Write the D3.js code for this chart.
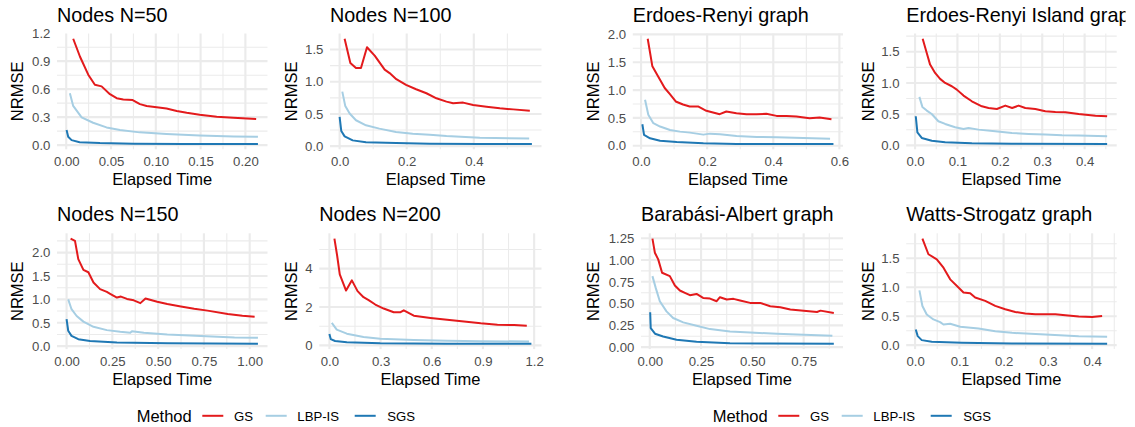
<!DOCTYPE html>
<html><head><meta charset="utf-8">
<script src="https://cdn.jsdelivr.net/npm/d3@7"></script>
<style>
body{margin:0;background:#fff}
svg{display:block}
text{font-family:"Liberation Sans",Arial,Helvetica,sans-serif}
</style>
</head><body>
<svg id="c" width="1135" height="427"></svg>
<script>
// ---------- data (elapsed time, NRMSE) ----------
const methods = ["GS", "LBP-IS", "SGS"];
const methodColors = ["#E31A1C", "#A6CEE3", "#1F78B4"];

const n50_GS = [[0.0078,1.14],[0.0153,0.95],[0.0246,0.755],[0.032,0.647],[0.0395,0.63],[0.0488,0.546],[0.0563,0.503],[0.0637,0.49],[0.0742,0.483],[0.0823,0.44],[0.0898,0.42],[0.101,0.405],[0.112,0.392],[0.1234,0.367],[0.1345,0.348],[0.149,0.327],[0.168,0.305],[0.1866,0.293],[0.212,0.28]];
const n50_LBP = [[0.0041,0.557],[0.0078,0.42],[0.0172,0.298],[0.030,0.24],[0.045,0.19],[0.06,0.162],[0.082,0.137],[0.112,0.119],[0.149,0.104],[0.187,0.093],[0.214,0.09]];
const n50_SGS = [[0.0004,0.162],[0.0022,0.09],[0.006,0.054],[0.015,0.032],[0.0376,0.022],[0.075,0.016],[0.131,0.013],[0.214,0.012]];

const n100_GS = [[0.0149,1.667],[0.032,1.29],[0.0488,1.213],[0.0637,1.213],[0.0816,1.536],[0.1045,1.406],[0.1343,1.187],[0.149,1.134],[0.169,1.04],[0.198,0.951],[0.228,0.883],[0.2587,0.821],[0.2886,0.743],[0.3184,0.691],[0.3383,0.665],[0.3682,0.676],[0.398,0.639],[0.4378,0.613],[0.4776,0.587],[0.5174,0.571],[0.567,0.55]];
const n100_LBP = [[0.008,0.846],[0.0169,0.622],[0.0299,0.507],[0.0488,0.402],[0.0786,0.324],[0.1184,0.272],[0.168,0.22],[0.2179,0.194],[0.2687,0.178],[0.3184,0.157],[0.418,0.131],[0.565,0.12]];
const n100_SGS = [[0.0,0.455],[0.005,0.235],[0.015,0.152],[0.039,0.09],[0.0786,0.059],[0.168,0.048],[0.2687,0.038],[0.418,0.033],[0.5731,0.033]];

const n150_GS = [[0.022,2.30],[0.046,2.25],[0.064,1.86],[0.092,1.63],[0.119,1.58],[0.147,1.36],[0.183,1.22],[0.22,1.16],[0.238,1.12],[0.275,1.04],[0.297,1.06],[0.33,1.01],[0.367,0.98],[0.403,0.92],[0.431,1.02],[0.495,0.95],[0.55,0.90],[0.624,0.85],[0.697,0.80],[0.77,0.76],[0.88,0.69],[0.96,0.65],[1.027,0.63]];
const n150_LBP = [[0.009,1.0],[0.027,0.79],[0.055,0.645],[0.092,0.525],[0.147,0.414],[0.22,0.343],[0.293,0.308],[0.348,0.287],[0.357,0.32],[0.422,0.287],[0.55,0.25],[0.733,0.216],[0.917,0.187],[1.045,0.18]];
const n150_SGS = [[0.0,0.58],[0.009,0.33],[0.027,0.22],[0.064,0.15],[0.128,0.11],[0.275,0.08],[0.55,0.06],[1.045,0.05]];

const n200_GS = [[0.0294,5.57],[0.0457,4.66],[0.0608,3.70],[0.0977,2.86],[0.1318,3.39],[0.165,2.83],[0.2,2.51],[0.23,2.36],[0.269,2.13],[0.318,1.92],[0.377,1.73],[0.417,1.73],[0.436,1.83],[0.4946,1.55],[0.5926,1.43],[0.69,1.33],[0.789,1.24],[0.887,1.15],[0.985,1.08],[1.083,1.06],[1.157,1.02]];
const n200_LBP = [[0.014,1.17],[0.043,0.82],[0.102,0.61],[0.2,0.44],[0.298,0.35],[0.494,0.28],[0.69,0.24],[0.887,0.22],[1.17,0.2]];
const n200_SGS = [[0.0,0.59],[0.0078,0.33],[0.0333,0.23],[0.102,0.16],[0.298,0.11],[0.69,0.09],[1.184,0.08]];

const er_GS = [[0.0202,1.922],[0.0343,1.427],[0.0514,1.247],[0.0716,1.037],[0.0867,0.93],[0.1049,0.795],[0.127,0.741],[0.1472,0.705],[0.1724,0.705],[0.1976,0.627],[0.238,0.567],[0.258,0.615],[0.2885,0.585],[0.319,0.567],[0.349,0.567],[0.379,0.573],[0.41,0.536],[0.44,0.536],[0.47,0.524],[0.51,0.494],[0.54,0.506],[0.576,0.476]];
const er_LBP = [[0.0121,0.826],[0.022,0.555],[0.0373,0.404],[0.0575,0.344],[0.0877,0.283],[0.118,0.253],[0.148,0.235],[0.1886,0.199],[0.2088,0.217],[0.239,0.205],[0.289,0.175],[0.35,0.157],[0.41,0.151],[0.491,0.139],[0.5718,0.127]];
const er_SGS = [[0.004,0.386],[0.0091,0.193],[0.0272,0.133],[0.0575,0.09],[0.108,0.066],[0.1886,0.042],[0.289,0.03],[0.44,0.03],[0.582,0.03]];

const eri_GS = [[0.018,1.708],[0.0276,1.48],[0.0355,1.294],[0.0473,1.16],[0.0591,1.065],[0.071,1.0],[0.0867,0.947],[0.0985,0.893],[0.1143,0.797],[0.134,0.706],[0.1576,0.626],[0.1734,0.599],[0.193,0.583],[0.213,0.637],[0.229,0.599],[0.2443,0.637],[0.26,0.599],[0.2837,0.583],[0.3073,0.546],[0.331,0.535],[0.3546,0.53],[0.386,0.503],[0.4255,0.476],[0.4531,0.466]];
const eri_LBP = [[0.0102,0.777],[0.0173,0.616],[0.0276,0.557],[0.0394,0.503],[0.055,0.386],[0.071,0.343],[0.0946,0.29],[0.1143,0.263],[0.1261,0.279],[0.1497,0.252],[0.1891,0.225],[0.2285,0.199],[0.2679,0.183],[0.3073,0.172],[0.3467,0.161],[0.386,0.156],[0.4531,0.145]];
const eri_SGS = [[0.0017,0.466],[0.0055,0.209],[0.0158,0.118],[0.0394,0.075],[0.071,0.048],[0.134,0.032],[0.2285,0.027],[0.4531,0.021]];

const ba_GS = [[0.013,1.246],[0.0248,1.084],[0.0411,1.007],[0.06,0.854],[0.0978,0.815],[0.1223,0.708],[0.1467,0.65],[0.1712,0.623],[0.1957,0.596],[0.228,0.611],[0.26,0.565],[0.2935,0.557],[0.326,0.527],[0.342,0.573],[0.375,0.546],[0.408,0.554],[0.44,0.535],[0.489,0.508],[0.538,0.508],[0.587,0.469],[0.636,0.458],[0.685,0.431],[0.75,0.419],[0.815,0.404],[0.832,0.419],[0.897,0.392]];
const ba_LBP = [[0.013,0.815],[0.029,0.68],[0.0489,0.527],[0.0815,0.411],[0.114,0.334],[0.163,0.284],[0.228,0.246],[0.2935,0.207],[0.391,0.18],[0.489,0.169],[0.62,0.153],[0.75,0.142],[0.89,0.13]];
const ba_SGS = [[0.002,0.40],[0.0046,0.219],[0.0255,0.154],[0.0652,0.123],[0.1305,0.085],[0.228,0.062],[0.391,0.046],[0.587,0.042],[0.897,0.038]];

const ws_GS = [[0.0166,1.84],[0.0302,1.569],[0.0491,1.482],[0.0642,1.338],[0.0793,1.136],[0.0981,0.995],[0.1094,0.908],[0.1245,0.897],[0.1358,0.822],[0.1585,0.764],[0.1811,0.678],[0.2037,0.62],[0.2264,0.574],[0.249,0.545],[0.2717,0.533],[0.2943,0.533],[0.317,0.533],[0.3396,0.516],[0.3698,0.493],[0.4,0.487],[0.4226,0.505]];
const ws_LBP = [[0.0098,0.946],[0.0166,0.675],[0.0264,0.53],[0.0415,0.444],[0.0566,0.398],[0.0642,0.357],[0.0793,0.369],[0.102,0.317],[0.1434,0.288],[0.1811,0.242],[0.2189,0.213],[0.2943,0.184],[0.3698,0.155],[0.4339,0.144]];
const ws_SGS = [[0.0016,0.271],[0.006,0.156],[0.0151,0.087],[0.0377,0.058],[0.1057,0.04],[0.2189,0.029],[0.4339,0.023]];

// tick labels
const ticks_n50_x = [0, 0.05, 0.10, 0.15, 0.20];
const ticks_n50_y = [0, 0.3, 0.6, 0.9, 1.2];
const ticks_n100_x = [0, 0.2, 0.4];
const ticks_n100_y = [0, 0.5, 1.0, 1.5];
const ticks_n150_x = [0, 0.25, 0.50, 0.75, 1.00];
const ticks_n150_y = [0, 0.5, 1.0, 1.5, 2.0];
const ticks_n200_x = [0, 0.3, 0.6, 0.9, 1.2];
const ticks_n200_y = [0, 2, 4];
const ticks_er_x = [0, 0.2, 0.4, 0.6];
const ticks_er_y = [0, 0.5, 1.0, 1.5, 2.0];
const ticks_eri_x = [0, 0.1, 0.2, 0.3, 0.4];
const ticks_eri_y = [0, 0.5, 1.0, 1.5];
const ticks_ba_x = [0, 0.25, 0.50, 0.75];
const ticks_ba_y = [0, 0.25, 0.50, 0.75, 1.00, 1.25];
const ticks_ws_x = [0, 0.1, 0.2, 0.3, 0.4];
const ticks_ws_y = [0, 0.5, 1.0, 1.5];

// ---------- layout ----------
const G2 = 576;           // offset of second group
const ROW2 = 199.8;       // offset of second row
const TOP = 33.5, BOT = 149.3;

const panels = [
  {title:"Nodes N=50", s:[n50_GS,n50_LBP,n50_SGS], xt:ticks_n50_x, yt:ticks_n50_y, xf:".2f", yf:".1f", x0:57, x1:267.5, row:0, ytx:23.3},
  {title:"Nodes N=100", s:[n100_GS,n100_LBP,n100_SGS], xt:ticks_n100_x, yt:ticks_n100_y, xf:".1f", yf:".1f", x0:330, x1:541.5, row:0, ytx:296.5},
  {title:"Nodes N=150", s:[n150_GS,n150_LBP,n150_SGS], xt:ticks_n150_x, yt:ticks_n150_y, xf:".2f", yf:".1f", x0:57, x1:267.5, row:1, ytx:23.3},
  {title:"Nodes N=200", s:[n200_GS,n200_LBP,n200_SGS], xt:ticks_n200_x, yt:ticks_n200_y, xf:".1f", yf:".0f", x0:319.3, x1:541.5, row:1, ytx:296.5},
  {title:"Erdoes-Renyi graph", s:[er_GS,er_LBP,er_SGS], xt:ticks_er_x, yt:ticks_er_y, xf:".1f", yf:".1f", x0:G2+56.8, x1:G2+267, row:0, ytx:G2+22.5},
  {title:"Erdoes-Renyi Island graph", s:[eri_GS,eri_LBP,eri_SGS], xt:ticks_eri_x, yt:ticks_eri_y, xf:".1f", yf:".1f", x0:G2+330.2, x1:G2+540.7, row:0, ytx:G2+297.5, clip:true},
  {title:"Barabási-Albert graph", s:[ba_GS,ba_LBP,ba_SGS], xt:ticks_ba_x, yt:ticks_ba_y, xf:".2f", yf:".2f", x0:G2+65, x1:G2+267, row:1, ytx:G2+23},
  {title:"Watts-Strogatz graph", s:[ws_GS,ws_LBP,ws_SGS], xt:ticks_ws_x, yt:ticks_ws_y, xf:".1f", yf:".1f", x0:G2+330.2, x1:G2+540.7, row:1, ytx:G2+297.5}
];

const svg = d3.select("#c");
svg.append("defs").append("clipPath").attr("id","clipR")
  .append("rect").attr("x", G2).attr("y", 0).attr("width", 1125.5 - G2).attr("height", 427);

const GRID = "#EBEBEB";
const TICKC = "#4D4D4D";

function expand(ext){ const d = (ext[1]-ext[0])*0.05; return [ext[0]-d, ext[1]+d]; }
function minors(t, dom){
  const step = t[1]-t[0]; const out = [];
  for (let i=-1;i<t.length;i++){ const v = t[0] + (i+0.5)*step; if (v>dom[0] && v<dom[1]) out.push(v); }
  return out;
}

panels.forEach(p => {
  const y0 = TOP + p.row*ROW2, y1 = BOT + p.row*ROW2;
  const all = p.s.flat();
  const xd = expand(d3.extent(all, d=>d[0]));
  const yd = expand(d3.extent(all, d=>d[1]));
  const x = d3.scaleLinear().domain(xd).range([p.x0, p.x1]);
  const y = d3.scaleLinear().domain(yd).range([y1, y0]);
  const g = svg.append("g");

  // minor grid
  g.selectAll(null).data(minors(p.xt, xd)).join("line")
    .attr("x1", d=>x(d)).attr("x2", d=>x(d)).attr("y1", y0).attr("y2", y1)
    .attr("stroke", GRID).attr("stroke-width", 1.07);
  g.selectAll(null).data(minors(p.yt, yd)).join("line")
    .attr("y1", d=>y(d)).attr("y2", d=>y(d)).attr("x1", p.x0).attr("x2", p.x1)
    .attr("stroke", GRID).attr("stroke-width", 1.07);
  // major grid
  g.selectAll(null).data(p.xt.filter(v=>v>=xd[0]&&v<=xd[1])).join("line")
    .attr("x1", d=>x(d)).attr("x2", d=>x(d)).attr("y1", y0).attr("y2", y1)
    .attr("stroke", GRID).attr("stroke-width", 2.13);
  g.selectAll(null).data(p.yt.filter(v=>v>=yd[0]&&v<=yd[1])).join("line")
    .attr("y1", d=>y(d)).attr("y2", d=>y(d)).attr("x1", p.x0).attr("x2", p.x1)
    .attr("stroke", GRID).attr("stroke-width", 2.13);

  // series
  const line = d3.line().x(d=>x(d[0])).y(d=>y(d[1]));
  p.s.forEach((s,i) => {
    g.append("path").datum(s).attr("d", line).attr("fill","none")
      .attr("stroke", methodColors[i]).attr("stroke-width", 2).attr("stroke-linejoin","round");
  });

  // axes
  const ax = g.append("g").attr("transform", `translate(0,${y1})`)
    .call(d3.axisBottom(x).tickValues(p.xt).tickFormat(d3.format(p.xf)).tickSize(0).tickPadding(7.6));
  const ay = g.append("g").attr("transform", `translate(${p.x0},0)`)
    .call(d3.axisLeft(y).tickValues(p.yt).tickFormat(d3.format(p.yf)).tickSize(0).tickPadding(6.6));
  [ax, ay].forEach(a => {
    a.select(".domain").remove();
    a.selectAll("text").attr("fill", TICKC).style("font-size","13.2px")
      .style("font-family", '"Liberation Sans",Arial,sans-serif');
  });

  // axis titles
  g.append("text").attr("x", (p.x0+p.x1)/2).attr("y", y1+36).attr("text-anchor","middle")
    .style("font-size","16.5px").attr("fill","#000").text("Elapsed Time");
  g.append("text").attr("transform", `translate(${p.ytx},${(y0+y1)/2}) rotate(-90)`)
    .attr("text-anchor","middle").style("font-size","16.5px").attr("fill","#000").text("NRMSE");
  // title
  const t = g.append("text").attr("x", p.x0).attr("y", y0-12).style("font-size","19.8px")
    .attr("fill","#000").text(p.title);
  if (p.clip) t.attr("clip-path","url(#clipR)");
});

// ---------- legends ----------
const keyStart = [0, 63.4, 152.4];
const labStart = [31.7, 95, 185];
[0, G2].forEach(off => {
  const lg = svg.append("g").attr("transform", `translate(${off},0)`);
  lg.append("text").attr("x", 136.7).attr("y", 421.8).style("font-size","16.5px").attr("fill","#000").text("Method");
  methods.forEach((m,i) => {
    lg.append("line").attr("x1", 202.3+keyStart[i]).attr("x2", 202.3+keyStart[i]+21)
      .attr("y1", 415.8).attr("y2", 415.8).attr("stroke", methodColors[i]).attr("stroke-width", 2);
    lg.append("text").attr("x", 202.3+labStart[i]).attr("y", 420.6).style("font-size","13.2px")
      .attr("fill","#000").text(m);
  });
});
</script>
</body></html>
